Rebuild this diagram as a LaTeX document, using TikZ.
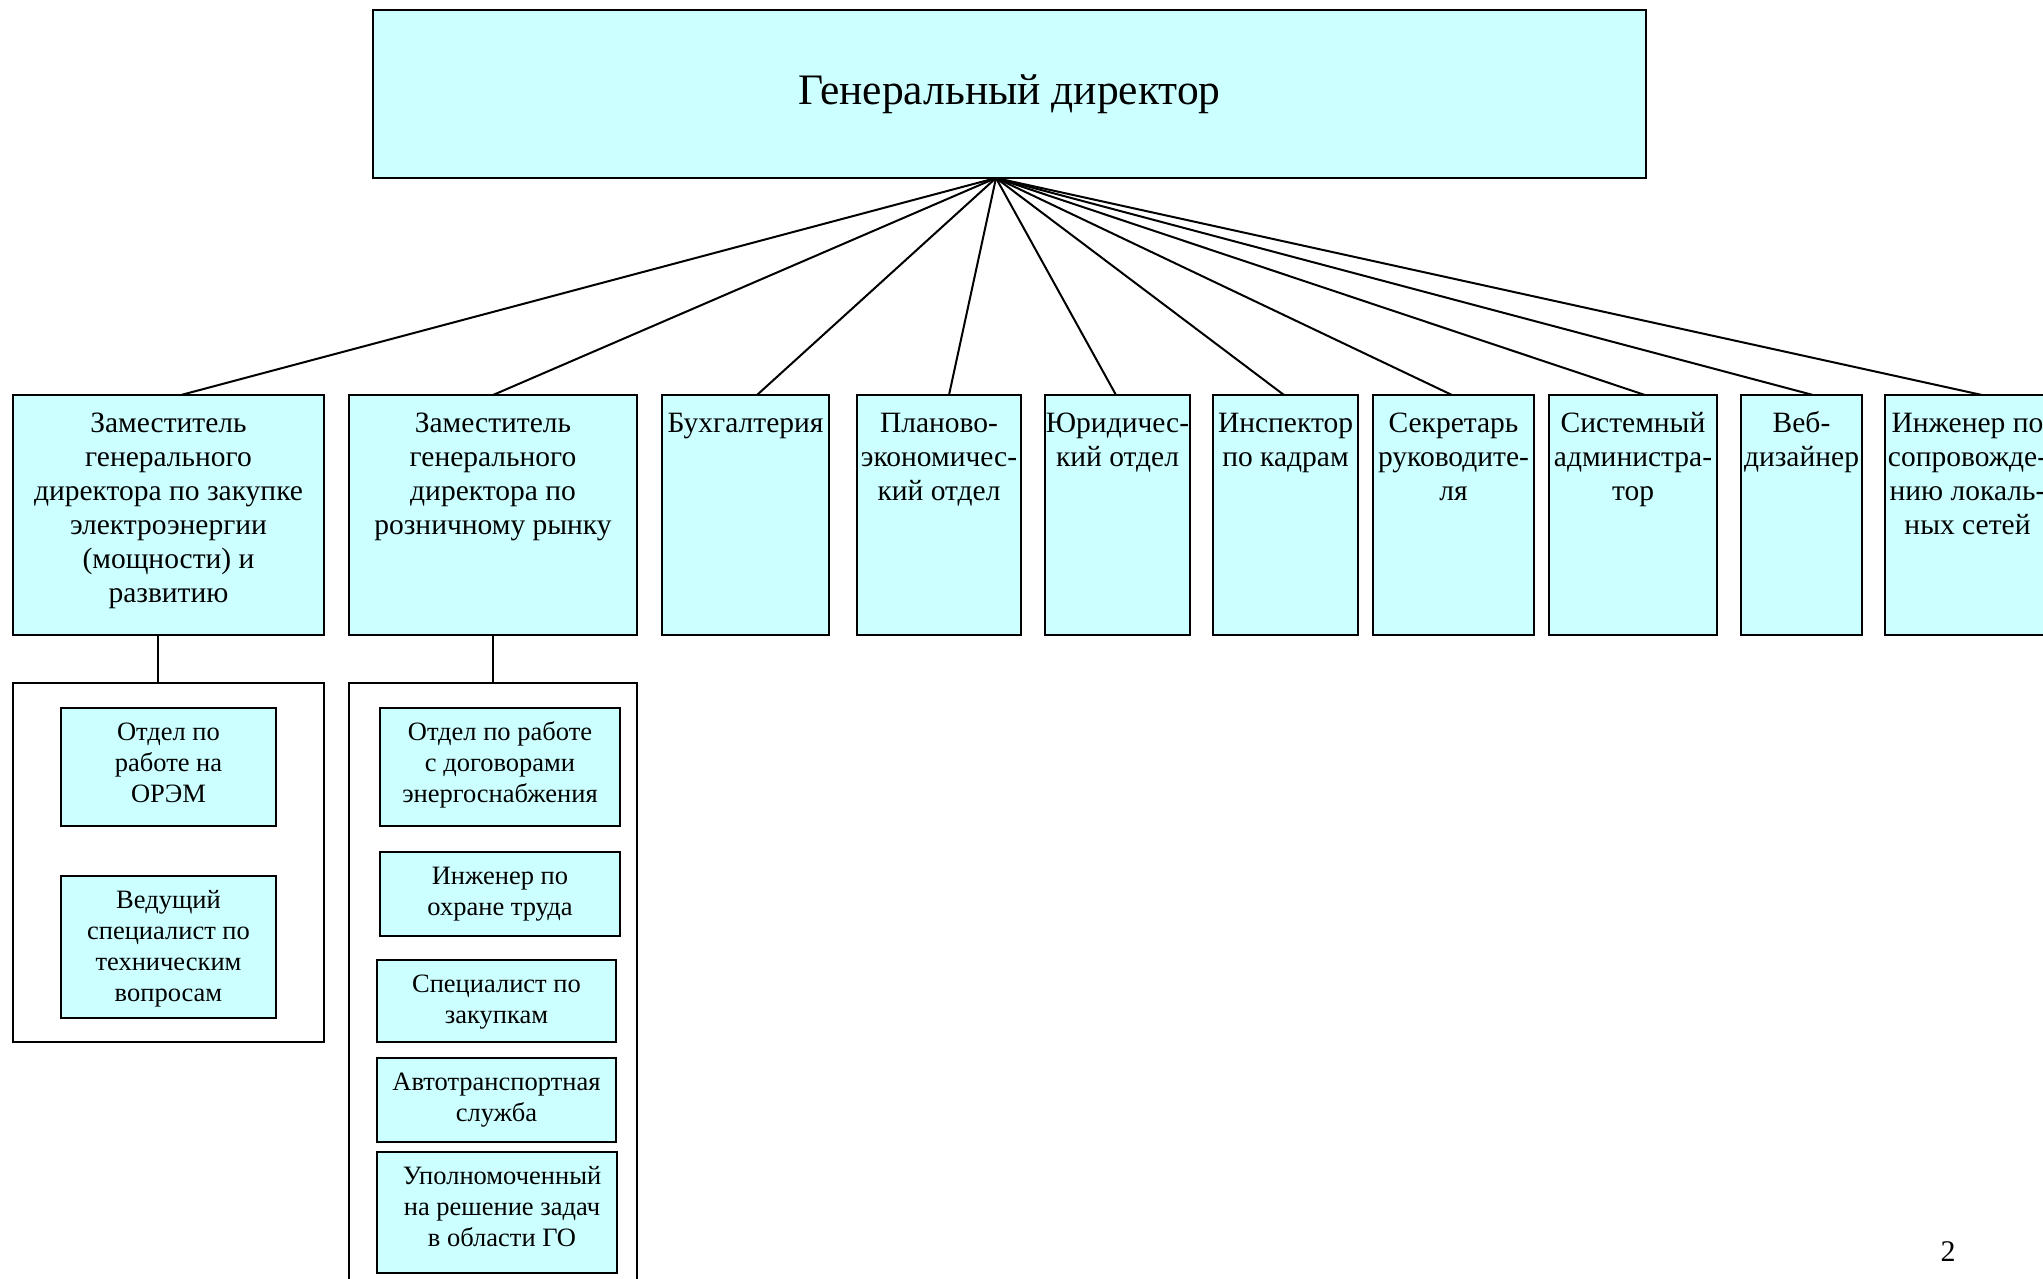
\documentclass[tikz,border=0pt]{standalone}
\usepackage{fontspec}
\setmainfont{Liberation Serif}
\definecolor{boxfill}{HTML}{CCFFFF}
\newcommand\ctrline[1]{\makebox[\linewidth][c]{\strut #1}}
\newcommand\mybox[8]{\node[#1, minimum width=#5pt, minimum height=#6pt] (#2) at (#3,#4) {\parbox[c][#6pt][t]{#5pt}{\vspace*{#7pt}#8}};}
\tikzset{
  link/.style={line width=2pt, draw=black},
  obox/.style={draw=black, line width=2pt, fill=boxfill, inner sep=0pt, outer sep=0pt, anchor=north west},
  rowb/.style={obox, font=\fontsize{29.5}{34}\selectfont},
  subb/.style={obox, font=\fontsize{26.5}{31}\selectfont},
  frame/.style={draw=black, line width=2pt, fill=white, inner sep=0pt, outer sep=0pt, anchor=north west},
}
\begin{document}
\begin{tikzpicture}[x=1pt,y=-1pt]
\useasboundingbox (0,0) rectangle (2043,1278);
\clip (0,0) rectangle (2043,1278);
% top
\node[obox, font=\fontsize{43.5}{50}\selectfont, minimum width=1273pt, minimum height=168pt] (gd) at (373,10) {Генеральный директор};
\coordinate (hub) at ([xshift=-13.5pt]gd.south);
% row
\mybox{rowb}{b1}{13}{395}{311}{240}{14}{\ctrline{Заместитель}\\\ctrline{генерального}\\\ctrline{директора по закупке}\\\ctrline{электроэнергии}\\\ctrline{(мощности) и}\\\ctrline{развитию}}
\mybox{rowb}{b2}{349}{395}{288}{240}{14}{\ctrline{Заместитель}\\\ctrline{генерального}\\\ctrline{директора по}\\\ctrline{розничному рынку}}
\mybox{rowb}{b3}{662}{395}{167}{240}{14}{\ctrline{Бухгалтерия}}
\mybox{rowb}{b4}{857}{395}{164}{240}{14}{\ctrline{Планово-}\\\ctrline{экономичес-}\\\ctrline{кий отдел}}
\mybox{rowb}{b5}{1045}{395}{145}{240}{14}{\ctrline{Юридичес-}\\\ctrline{кий отдел}}
\mybox{rowb}{b6}{1213}{395}{145}{240}{14}{\ctrline{Инспектор}\\\ctrline{по кадрам}}
\mybox{rowb}{b7}{1373}{395}{161}{240}{14}{\ctrline{Секретарь}\\\ctrline{руководите-}\\\ctrline{ля}}
\mybox{rowb}{b8}{1549}{395}{168}{240}{14}{\ctrline{Системный}\\\ctrline{администра-}\\\ctrline{тор}}
\mybox{rowb}{b9}{1741}{395}{121}{240}{14}{\ctrline{Веб-}\\\ctrline{дизайнер}}
\mybox{rowb}{b10}{1885}{395}{165}{240}{14}{\ctrline{Инженер по}\\\ctrline{сопровожде-}\\\ctrline{нию локаль-}\\\ctrline{ных сетей}}
% connectors from hub
\draw[link] (hub) -- ([xshift=12.5pt]b1.north);
\draw[link] (hub) -- (b2.north);
\draw[link] (hub) -- ([xshift=11.5pt]b3.north);
\draw[link] (hub) -- ([xshift=10pt]b4.north);
\draw[link] (hub) -- ([xshift=-1.5pt]b5.north);
\draw[link] (hub) -- ([xshift=-1.5pt]b6.north);
\draw[link] (hub) -- ([xshift=-1.5pt]b7.north);
\draw[link] (hub) -- ([xshift=12pt]b8.north);
\draw[link] (hub) -- ([xshift=11.5pt]b9.north);
\draw[link] (hub) -- ([xshift=14.5pt]b10.north);
% containers
\node[frame, minimum width=311pt, minimum height=359pt] (cl) at (13,683) {};
\node[frame, minimum width=288pt, minimum height=640pt] (cr) at (349,683) {};
\draw[link] ([xshift=-10.5pt]b1.south) -- ([xshift=-10.5pt]cl.north);
\draw[link] (b2.south) -- (cr.north);
% sub boxes left
\mybox{subb}{l1}{61}{708}{215}{118}{11}{\ctrline{Отдел по}\\\ctrline{работе на}\\\ctrline{ОРЭМ}}
\mybox{subb}{l2}{61}{876}{215}{142}{11}{\ctrline{Ведущий}\\\ctrline{специалист по}\\\ctrline{техническим}\\\ctrline{вопросам}}
% sub boxes right
\mybox{subb}{r1}{380}{708}{240}{118}{11}{\ctrline{Отдел по работе}\\\ctrline{с договорами}\\\ctrline{энергоснабжения}}
\mybox{subb}{r2}{380}{852}{240}{84}{11}{\ctrline{Инженер по}\\\ctrline{охране труда}}
\mybox{subb}{r3}{377}{960}{239}{82}{11}{\ctrline{Специалист по}\\\ctrline{закупкам}}
\mybox{subb}{r4}{377}{1058}{239}{84}{11}{\ctrline{Автотранспортная}\\\ctrline{служба}}
\mybox{subb}{r5}{377}{1152}{240}{121}{11}{\ctrline{\hspace{10pt}Уполномоченный}\\\ctrline{\hspace{10pt}на решение задач}\\\ctrline{\hspace{10pt}в области ГО}}
% page number
\node[font=\fontsize{30}{34}\selectfont, inner sep=0pt] (pg) at (1948,1252) {2};
\end{tikzpicture}
\end{document}
